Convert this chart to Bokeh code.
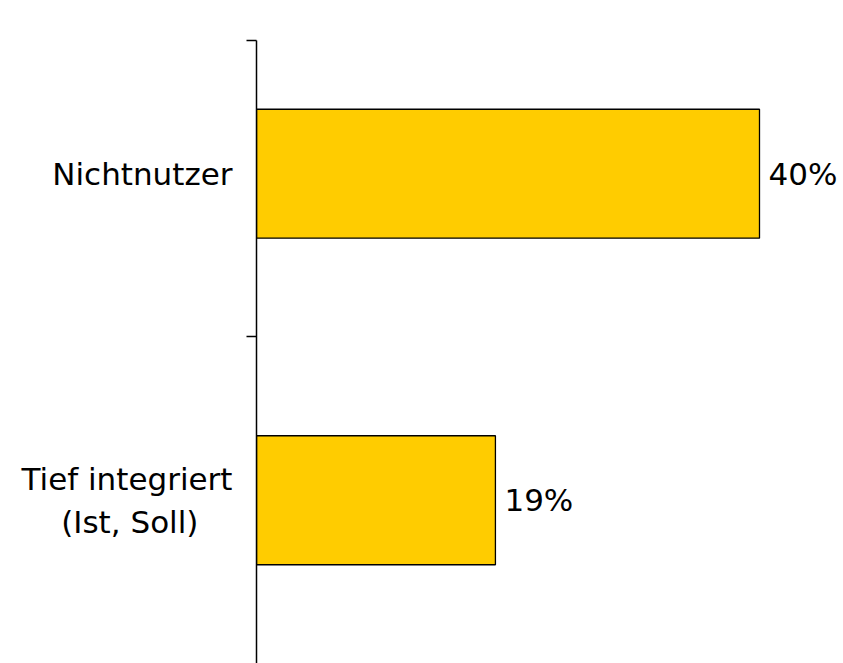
from bokeh.plotting import figure
from bokeh.models import Range1d, FixedTicker, ColumnDataSource, LabelSet
from bokeh.core.properties import value
from bokeh.embed import file_html
from bokeh.resources import INLINE

# Data
categories = ["Nichtnutzer", "Tief integriert\n\u2002\u2002\u200a(Ist, Soll)\u2002\u2002\u200a"]
values = [40, 19]
value_labels = ["40%", "19%"]

n = len(categories)
ypos = [n - 1 - i + 0.5 for i in range(n)]

FONT = "DejaVu Sans"
FS = "31px"

p = figure(width=843, height=663, output_backend="svg", toolbar_location=None,
           x_range=Range1d(0, 46.68), y_range=Range1d(0, 1.908),
           min_border_left=256, min_border_right=0, min_border_top=40, min_border_bottom=0)
p.outline_line_color = None
p.xgrid.visible = False
p.ygrid.visible = False
p.xaxis.visible = False
p.background_fill_color = "white"
p.border_fill_color = "white"

src = ColumnDataSource(dict(y=ypos, v=values, lab=value_labels))
p.hbar(y="y", left=0, right="v", height=0.395, source=src,
       fill_color="#FFCC00", line_color="black", line_width=1.3)

labels = LabelSet(x="v", y="y", text="lab", source=src, x_offset=9,
                  text_baseline="middle", text_align="left",
                  text_font=value(FONT), text_font_size=value(FS), text_color="black")
p.add_layout(labels)

yax = p.yaxis[0]
bounds_ticks = [float(k) for k in range(1, n)] + [1.908]
yax.ticker = FixedTicker(ticks=ypos, minor_ticks=bounds_ticks)
yax.major_label_overrides = {y: c for y, c in zip(ypos, categories)}
yax.major_tick_line_color = None
yax.major_tick_out = 0
yax.major_tick_in = 0
yax.minor_tick_line_color = "black"
yax.minor_tick_line_width = 1.3
yax.minor_tick_out = 10
yax.minor_tick_in = 0
yax.axis_line_color = "black"
yax.axis_line_width = 1.5
yax.major_label_standoff = 14
yax.major_label_text_font = FONT
yax.major_label_text_font_size = FS
yax.major_label_text_color = "black"

open("out.html", "w").write(file_html(p, INLINE))
